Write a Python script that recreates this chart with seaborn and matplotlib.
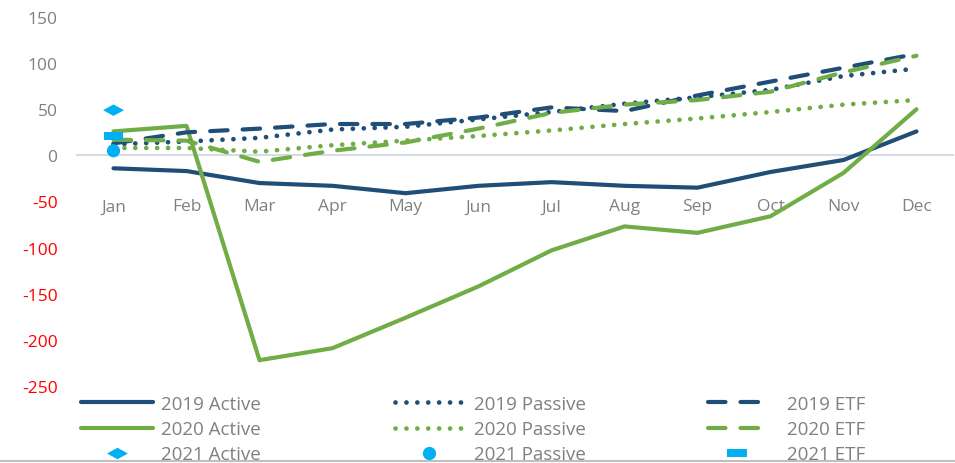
import pandas as pd
import matplotlib.pyplot as plt
from matplotlib.lines import Line2D
import seaborn as sns

# Monthly values
months = ['Jan', 'Feb', 'Mar', 'Apr', 'May', 'Jun', 'Jul', 'Aug', 'Sep', 'Oct', 'Nov', 'Dec']
active_2019 = [-14, -17, -30, -33, -41, -33, -29, -33, -35, -18, -5, 26]
active_2020 = [26, 32, -222, -209, -176, -142, -103, -77, -84, -66, -19, 50]
passive_2019 = [12, 15, 19, 28, 31, 39, 47, 56, 63, 71, 86, 94]
passive_2020 = [8, 8, 4, 11, 16, 21, 27, 34, 40, 47, 55, 60]
etf_2019 = [13, 25, 29, 34, 34, 41, 52, 48, 65, 80, 95, 110]
etf_2020 = [17, 16, -7, 5, 14, 29, 46, 55, 60, 69, 90, 108]
active_2021 = [49]
passive_2021 = [5]
etf_2021 = [21]

yticks = [150, 100, 50, 0, -50, -100, -150, -200, -250]

dark_blue = '#1F4E79'
green = '#70AD47'
light_blue = '#00B0F0'
grey = '#808080'
axis_col = '#D6DCE5'

sns.set_style('white')
plt.rcParams['font.family'] = ['Open Sans', 'DejaVu Sans']

fig = plt.figure(figsize=(9.55, 4.64), dpi=100)
ax = fig.add_axes([77 / 955, 1 - 387 / 464, 876 / 955, 369 / 464])

x = list(range(len(months)))
df = pd.DataFrame({'x': x, 'a19': active_2019, 'a20': active_2020,
                   'p19': passive_2019, 'p20': passive_2020,
                   'e19': etf_2019, 'e20': etf_2020})

dot = (0.01, 2.3)
dash = (4.2, 3.6)
series = [
    ('a19', '2019 Active', dark_blue, None, 3),
    ('a20', '2020 Active', green, None, 3),
    ('p19', '2019 Passive', dark_blue, dot, 3.4),
    ('p20', '2020 Passive', green, dot, 3.4),
    ('e19', '2019 ETF', dark_blue, dash, 3),
    ('e20', '2020 ETF', green, dash, 3),
]
handles = {}
for col, label, color, dashes, lw in series:
    sns.lineplot(data=df, x='x', y=col, ax=ax, color=color, linewidth=lw, sort=False)
    line = ax.lines[-1]
    if dashes is not None:
        line.set_dashes(dashes)
        line.set_dash_capstyle('round')
    handles[label] = Line2D([], [], color=color, linewidth=lw,
                            linestyle=(0, dashes) if dashes else '-',
                            dash_capstyle='round')

# 2021 points (January only)
diamond = [(-1, 0), (0, 0.55), (1, 0), (0, -0.55)]
rect = [(-1, -0.45), (1, -0.45), (1, 0.45), (-1, 0.45)]
pts = [
    (active_2021, '2021 Active', diamond, 15),
    (passive_2021, '2021 Passive', 'o', 9.5),
    (etf_2021, '2021 ETF', rect, 14),
]
for vals, label, marker, ms in pts:
    sns.scatterplot(x=[0], y=vals, ax=ax, marker=marker, s=ms ** 2,
                    color=light_blue, edgecolor='none', linewidth=0, zorder=5)
    handles[label] = Line2D([], [], color=light_blue, linestyle='none',
                            marker=marker, markersize=ms, markeredgewidth=0)

ax.set_xlim(-0.5, 11.5)
ax.set_ylim(-250, 150)
ax.set_xlabel('')
ax.set_ylabel('')

for s in ['top', 'right', 'left']:
    ax.spines[s].set_visible(False)
ax.spines['bottom'].set_position(('data', 0))
ax.spines['bottom'].set_color(axis_col)
ax.spines['bottom'].set_linewidth(1.5)
ax.spines['bottom'].set_zorder(0)

ax.set_xticks(x)
ax.set_xticklabels(months)
ax.set_xticks([i - 0.5 for i in range(13)], minor=True)
ax.tick_params(axis='x', which='major', length=0, pad=31, labelsize=12.5, labelcolor=grey)
ax.tick_params(axis='x', which='minor', length=4, width=1.5, color=axis_col, direction='out')

ax.set_yticks(yticks)
ax.set_yticklabels([str(v) for v in yticks])
ax.tick_params(axis='y', length=0, pad=14, labelsize=12.5)
for lab, v in zip(ax.get_yticklabels(), yticks):
    lab.set_color('#FF0000' if v < 0 else grey)

# Legend: three columns, placed one by one
columns = [
    (['2019 Active', '2020 Active', '2021 Active'], 81, 3.84, 0.43),
    (['2019 Passive', '2020 Passive', '2021 Passive'], 395, 3.63, 0.59),
    (['2019 ETF', '2020 ETF', '2021 ETF'], 708, 3.04, 1.17),
]
for labels, x0, hl, hp in columns:
    leg = fig.legend([handles[k] for k in labels], labels, loc='upper left',
                     bbox_to_anchor=(x0 / 955, 1 - 396 / 464), frameon=False,
                     fontsize=13.5, handlelength=hl, handletextpad=hp,
                     labelspacing=0.38, borderpad=0, borderaxespad=0)
    for t in leg.get_texts():
        t.set_color(grey)

fig.add_artist(Line2D([0, 1], [0.004, 0.004], color='#BFBFBF', linewidth=1.5))

plt.savefig('out.png', dpi=100)
